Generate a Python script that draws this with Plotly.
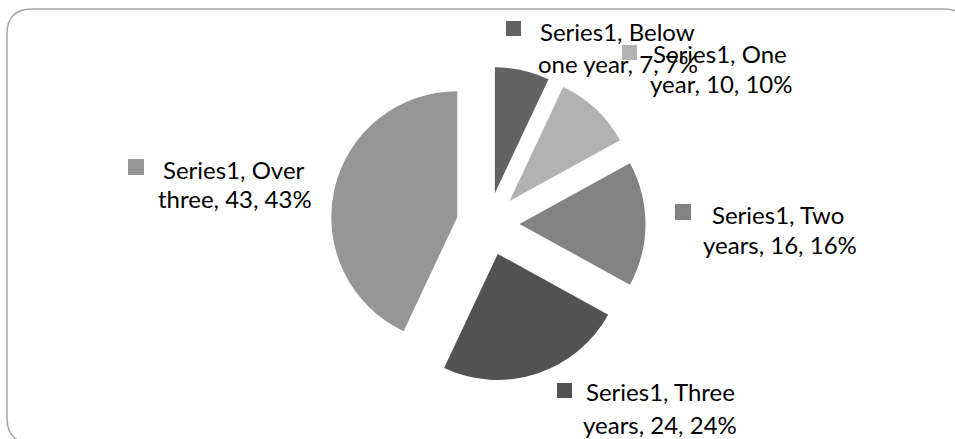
import plotly.graph_objects as go

# ---- data ----
series_name = "Series1"
categories = ["Below one year", "One year", "Two years", "Three years", "Over three"]
values = [7, 10, 16, 24, 43]
colors = ["#626262", "#b2b2b2", "#838383", "#525252", "#969696"]

W, H = 955, 439
total = sum(values)
percents = [round(100 * v / total) for v in values]

# ---- label layout (pixel positions: square box, line1 center, line2 center) ----
label_pos = [
    dict(sq=(506, 21, 521, 36), l1=(617, 31.5), l2=(618, 63)),
    dict(sq=(622, 45, 637, 60), l1=(720, 53), l2=(721, 83)),
    dict(sq=(675, 204, 691, 220), l1=(778, 214.5), l2=(780, 244.5)),
    dict(sq=(557, 383, 572, 398), l1=(660, 391.5), l2=(660, 424)),
    dict(sq=(128, 159, 144, 175), l1=(234, 169), l2=(235, 198.5)),
]

fig = go.Figure()

# pie center ~ (488, 224) px, radius ~126 px, pull 0.25
cx, cy, half = 488, 224, 157.5
fig.add_trace(go.Pie(
    labels=categories,
    values=values,
    sort=False,
    direction="clockwise",
    rotation=0,
    pull=[0.25] * len(values),
    marker=dict(colors=colors, line=dict(width=0)),
    textinfo="none",
    hoverinfo="label+value+percent",
    showlegend=False,
    domain=dict(x=[(cx - 200) / W, (cx + 200) / W],
                y=[(H - cy - half) / H, (H - cy + half) / H]),
))

shapes = []
annotations = []
font = dict(family="Lato, Carlito, sans-serif", size=24, color="#000000")
for cat, v, p, c, pos in zip(categories, values, percents, colors, label_pos):
    first, rest = cat.split(" ", 1)
    line1 = f"{series_name}, {first}"
    line2 = f"{rest}, {v}, {p}%"
    x0, y0, x1, y1 = pos["sq"]
    shapes.append(dict(type="rect", xref="x", yref="y", x0=x0, y0=y0, x1=x1, y1=y1,
                       fillcolor=c, line=dict(width=0), layer="above"))
    for txt, (tx, ty) in ((line1, pos["l1"]), (line2, pos["l2"])):
        annotations.append(dict(text=txt, x=tx, y=ty, xref="x", yref="y",
                                xanchor="center", yanchor="middle", showarrow=False,
                                font=font))

# rounded border
shapes.append(dict(
    type="path", xref="x", yref="y",
    path="M 7,34 Q 7,9 32,9 L 944,9 Q 969,9 969,34 L 969,418 Q 969,443 944,443 "
         "L 32,443 Q 7,443 7,418 Z",
    line=dict(color="#a6a6a6", width=1.5), fillcolor="rgba(0,0,0,0)", layer="below"))

fig.update_layout(
    width=W, height=H,
    margin=dict(l=0, r=0, t=0, b=0),
    paper_bgcolor="white", plot_bgcolor="white",
    xaxis=dict(range=[0, W], visible=False, fixedrange=True),
    yaxis=dict(range=[H, 0], visible=False, fixedrange=True),
    shapes=shapes, annotations=annotations,
)

fig.write_html(
    "out.html",
    config={"displayModeBar": False},
    post_script="document.body.style.margin='0';document.body.style.overflow='hidden';",
)
